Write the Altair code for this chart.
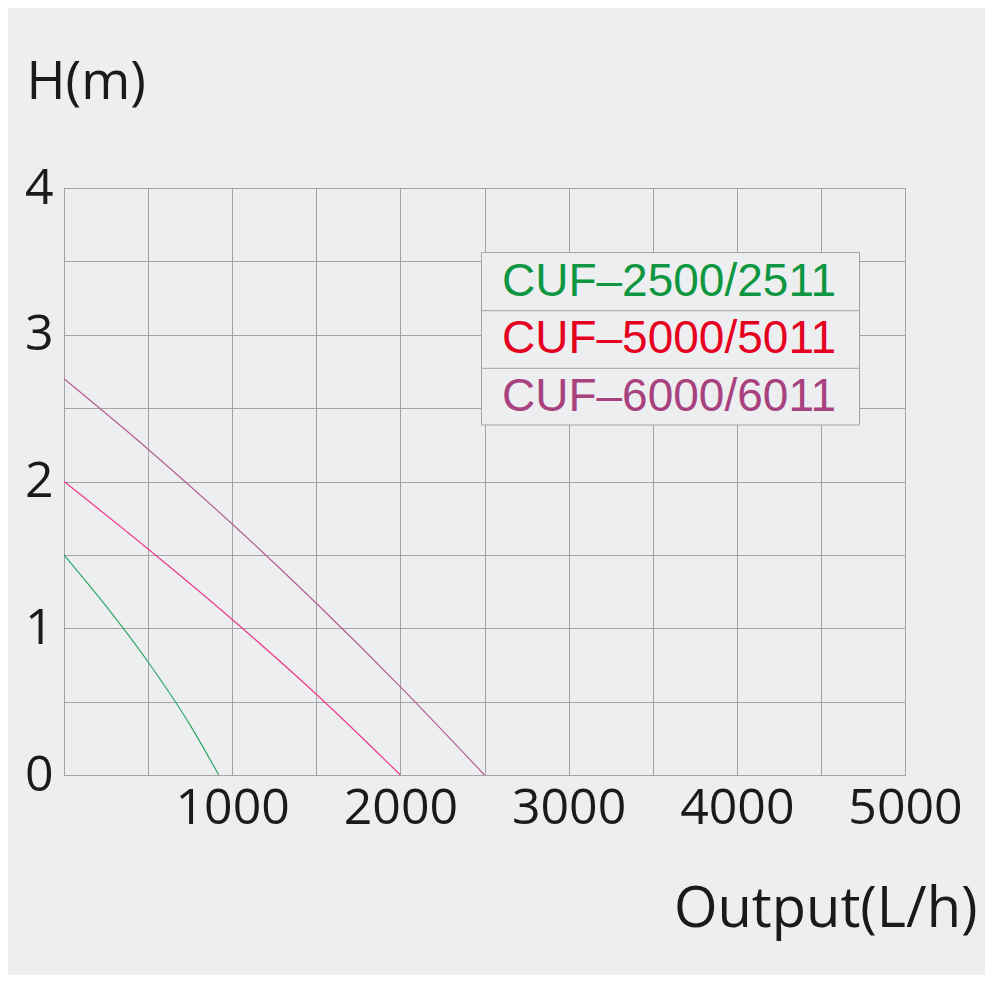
import altair as alt
import pandas as pd

# Series data (flow L/h, head m)
names = ["CUF-2500/2511", "CUF-5000/5011", "CUF-6000/6011"]
line_colors = ["#2ea866", "#ee3a90", "#b45e96"]
legend_colors = ["#0f9640", "#e5001f", "#a8427f"]
legend_labels = ["CUF\u20132500/2511", "CUF\u20135000/5011", "CUF\u20136000/6011"]

green_x = [0, 250, 500, 750, 920]
green_y = [1.5, 1.15, 0.77, 0.34, 0.0]
pink_x = [0, 500, 1000, 1500, 2000]
pink_y = [2.0, 1.54, 1.06, 0.55, 0.0]
purple_x = [0, 500, 1000, 1500, 2000, 2500]
purple_y = [2.7, 2.22, 1.71, 1.17, 0.6, 0.0]

x_ticks = [0, 500, 1000, 1500, 2000, 2500, 3000, 3500, 4000, 4500, 5000]
y_ticks = [0, 0.5, 1, 1.5, 2, 2.5, 3, 3.5, 4]

rows = []
for n, xs, ys in [(names[0], green_x, green_y), (names[1], pink_x, pink_y), (names[2], purple_x, purple_y)]:
    for xv, yv in zip(xs, ys):
        rows.append({"series": n, "flow": xv, "head": yv})
df = pd.DataFrame(rows)

BG = "#edeef0"
GRID = "#a3a3a3"

lines = alt.Chart(df).mark_line(strokeWidth=1.2, interpolate="monotone").encode(
    x=alt.X("flow:Q", scale=alt.Scale(domain=[0, 5000], nice=False),
            axis=alt.Axis(values=x_ticks, title="Output(L/h)",
                          labelExpr="datum.value % 1000 == 0 && datum.value > 0 ? datum.value : ''",
                          titleX=913, titleY=151, titleAlign="right", titleBaseline="alphabetic",
                          titleAnchor="end")),
    y=alt.Y("head:Q", scale=alt.Scale(domain=[0, 4], nice=False),
            axis=alt.Axis(values=y_ticks, title="H(m)",
                          labelExpr="datum.value % 1 == 0 ? datum.value : ''",
                          titleAngle=0, titleX=-38, titleY=-90, titleAlign="left",
                          titleBaseline="alphabetic", titleAnchor="start")),
    color=alt.Color("series:N", scale=alt.Scale(domain=names, range=line_colors), legend=None),
    detail="series:N",
)

box_df = pd.DataFrame({"k": [0]})
box = alt.Chart(box_df).mark_rect(fill=BG, stroke=GRID, strokeWidth=1).encode(
    x=alt.value(417.5), x2=alt.value(795.5), y=alt.value(64.5), y2=alt.value(237)
)
div1 = alt.Chart(box_df).mark_rule(color=GRID, strokeWidth=1).encode(
    x=alt.value(417.5), x2=alt.value(795.5), y=alt.value(122.7)
)
div2 = alt.Chart(box_df).mark_rule(color=GRID, strokeWidth=1).encode(
    x=alt.value(417.5), x2=alt.value(795.5), y=alt.value(180.3)
)

leg_df = pd.DataFrame({"label": legend_labels, "color": legend_colors, "row": [0, 1, 2]})
leg_text = alt.Chart(leg_df).mark_text(
    align="left", baseline="alphabetic", font="Liberation Sans, Arial, sans-serif", fontSize=46
).encode(
    x=alt.value(438),
    y=alt.Y("row:Q", scale=alt.Scale(domain=[0, 2], range=[108, 222.7]), axis=None),
    text="label:N",
    color=alt.Color("color:N", scale=None),
)

chart = alt.layer(lines, box, div1, div2, leg_text).resolve_scale(y="independent").properties(
    width=841, height=587,
    background=BG,
    padding={"left": 56, "top": 180, "right": 80, "bottom": 200},
    autosize=alt.AutoSizeParams(type="none"),
).configure_view(stroke=GRID, strokeWidth=1).configure_axis(
    grid=True, gridColor=GRID, gridWidth=1, gridOpacity=1,
    domain=True, domainColor=GRID, domainWidth=1,
    ticks=False,
    labelFont="Open Sans, sans-serif",
    labelFontSize=50, labelColor="#1a1a1a",
    titleFont="Open Sans, sans-serif", titleFontWeight="normal", titleColor="#1a1a1a",
    titleFontSize=56,
).configure_axisX(labelPadding=8, labelBaseline="top", labelAlign="center").configure_axisY(
    labelPadding=11, labelBaseline="middle", labelAlign="right", titleFontSize=53
)

chart.save("out.html", embed_options={"renderer": "svg", "actions": False})
